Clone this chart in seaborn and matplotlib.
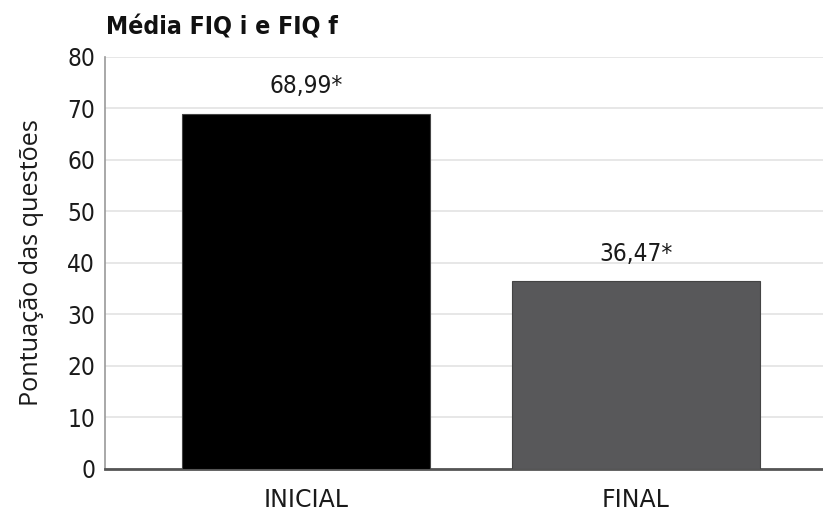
import matplotlib
matplotlib.use("Agg")
import matplotlib.pyplot as plt
import seaborn as sns
import pandas as pd

categories = ["INICIAL", "FINAL"]
values = [68.99, 36.47]
labels = ["68,99*", "36,47*"]
colors = ["#000000", "#58585a"]

sns.set_theme(style="white")
plt.rcParams["font.family"] = ["DejaVu Sans"]

df = pd.DataFrame({"fase": categories, "media": values})

fig = plt.figure(figsize=(8.23, 5.12), dpi=100)
ax = fig.add_axes([0.1276, 0.084, 0.8724, 0.805])

sns.barplot(data=df, x="fase", y="media", hue="fase", palette=colors,
            legend=False, width=0.75, edgecolor="#444444", linewidth=0.8,
            ax=ax, zorder=3)

ax.set_ylim(0, 80)
ax.set_xlim(-0.609, 1.567)
ax.set_yticks(range(0, 81, 10))
ax.yaxis.grid(True, color="#e3e3e3", linewidth=1.2, zorder=0)
ax.set_axisbelow(True)

for i, (v, t) in enumerate(zip(values, labels)):
    ax.text(i, v + 3.0, t, ha="center", va="bottom", fontsize=17.5,
            color="#1a1a1a", fontstretch="condensed")

ax.set_xlabel("")
ax.set_ylabel("Pontuação das questões", fontsize=18.2, color="#1a1a1a",
              labelpad=17, family=["Open Sans", "DejaVu Sans"])
ax.tick_params(axis="both", colors="#1a1a1a", length=0)
ax.tick_params(axis="y", pad=7)
ax.tick_params(axis="x", pad=14)
for lab in ax.get_yticklabels():
    lab.set_fontsize(17.5)
    lab.set_fontstretch("condensed")
for lab in ax.get_xticklabels():
    lab.set_fontsize(17)

for s in ["top", "right"]:
    ax.spines[s].set_visible(False)
ax.spines["left"].set_color("#9a9a9a")
ax.spines["left"].set_linewidth(1.2)
ax.spines["bottom"].set_color("#555555")
ax.spines["bottom"].set_linewidth(2)

fig.text(0.129, 0.947, "Média FIQ i e FIQ f", fontsize=17.8, fontweight="bold",
         color="#111111", ha="left", va="center", fontstretch="condensed")

fig.savefig("out.png", dpi=100, facecolor="white")
